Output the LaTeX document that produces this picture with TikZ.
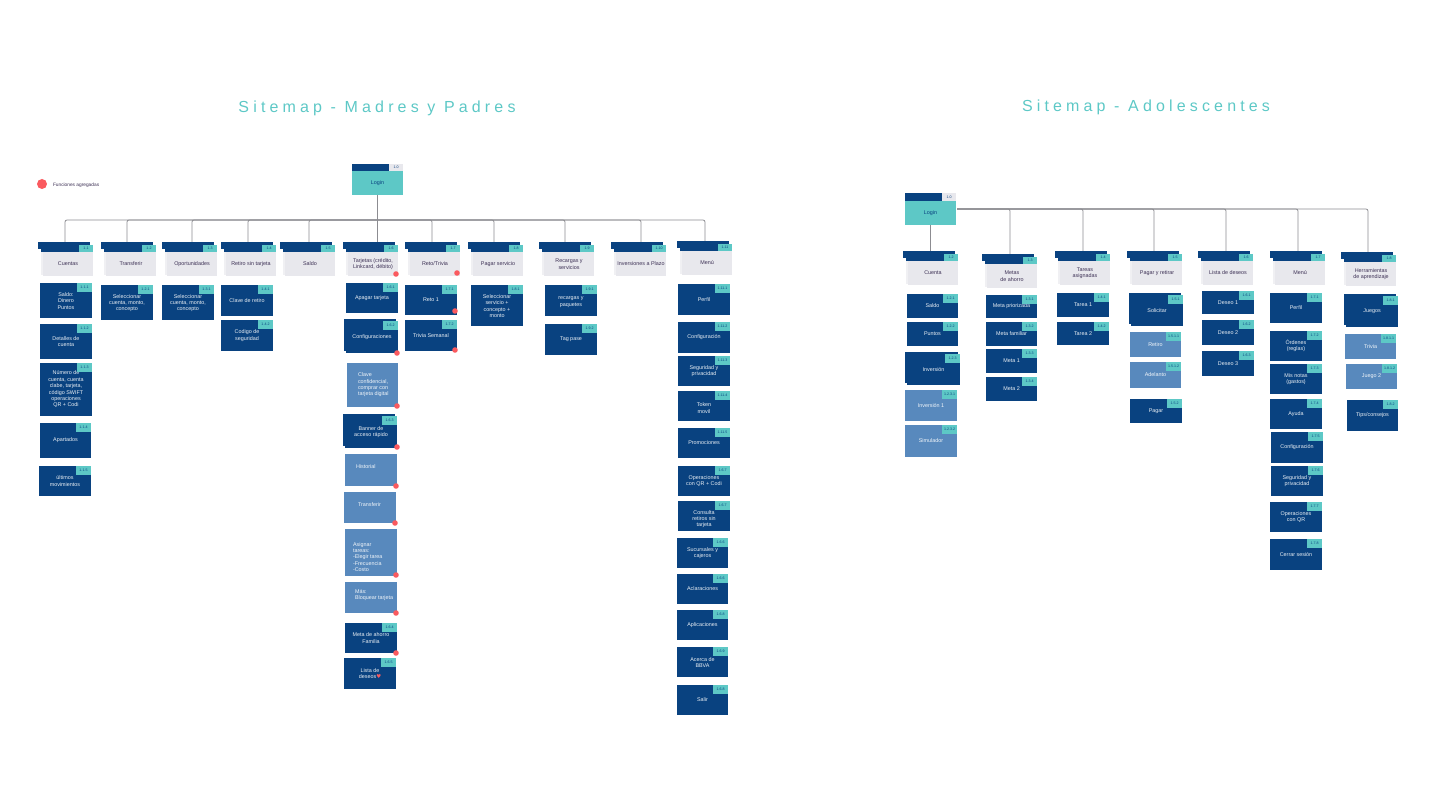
\documentclass[tikz,border=0pt]{standalone}
\usepackage{fontspec}
\setmainfont{Liberation Sans}
\newfontfamily\titlefont[LetterSpace=26]{Liberation Sans}
\newfontfamily\symfont{DejaVu Sans}
\usepackage{xcolor}
\definecolor{mynavy}{RGB}{9,66,128}
\definecolor{mylight}{RGB}{88,137,189}
\definecolor{myteal}{RGB}{93,200,198}
\definecolor{mygrey}{RGB}{232,232,237}
\definecolor{myback}{RGB}{240,240,243}
\definecolor{myink}{RGB}{60,48,84}
\definecolor{myred}{RGB}{250,90,95}
\definecolor{myline}{RGB}{140,140,145}
\newcommand{\dn}[1]{\mbox{}\\[#1pt]}
\tikzset{
boxbase/.style={inner sep=0pt, outer sep=0pt, align=center, font=\fontsize{5.4}{6.4}\selectfont},
leafbox/.style={boxbase, fill=mynavy, text=white!92!mynavy},
lightbox/.style={boxbase, fill=mylight, text=white!92!mylight},
tagbox/.style={boxbase, fill=myteal, text=mynavy, anchor=north east, minimum width=15pt, minimum height=9pt, font=\fontsize{3.6}{4}\selectfont},
pagebox/.style={boxbase, fill=mygrey, text=myink, anchor=north west, minimum width=50pt, minimum height=24pt},
headbox/.style={boxbase, fill=mynavy, anchor=north west},
titlebox/.style={inner sep=0pt, text=myteal, font=\titlefont\fontsize{16}{18}\selectfont},
conn/.style={draw=myline, line width=0.8pt, rounded corners=2pt}
}
\begin{document}
\begin{tikzpicture}[x=1pt,y=-1pt]
\useasboundingbox (0,0) rectangle (1440,810);

\node[titlebox] (tmadres) at (377,108) {Sitemap - Madres y Padres};
\node[titlebox] (tadol) at (1146,107) {Sitemap - Adolescentes};
\fill[myred] (42,184) circle (5);
\node[boxbase, anchor=west, text=myink, font=\fontsize{4.8}{6}\selectfont] (legend) at (53,185) {Funciones agregadas};

% login
\foreach \nm/\xa/\ya/\hh in {login/352/164/7, rlogin/905/193/8}{
\node[headbox, minimum width=37pt, minimum height=\hh pt] (\nm hd) at (\xa,\ya) {};
\node[tagbox, fill=mygrey, minimum width=14pt, minimum height=\hh pt] (\nm tag) at ({\xa+51},\ya) {1.0};
\node[pagebox, fill=myteal, text=mynavy, minimum width=51pt] (\nm) at (\xa,{\ya+\hh}) {Login};
}

% parents
\foreach \nm/\xa/\ya/\tg/\tx in {
cu/38/242/1.1/Cuentas, tr/101/242/1.2/Transferir, op/162/242/1.3/Oportunidades,
re/221/242/1.4/Retiro sin tarjeta, sa/280/242/1.5/Saldo,
ta/343/242/1.6/{Tarjetas (crédito,\\Linkcard, débito)}, rt/405/242/1.7/{Reto/Trivia},
ps/468/242/1.8/Pagar servicio, rc/539/242/1.9/{Recargas y\\servicios},
iv/611/242/1.10/Inversiones a Plazo, me/677/241/1.11/Menú,
rcu/903/251/1.2/Cuenta, rmt/982/254/1.3/{Metas\\de ahorro}, rta/1055/251/1.4/{Tareas\\asignadas},
rpg/1127/251/1.5/Pagar y retirar, rld/1198/251/1.6/Lista de deseos, rme/1270/251/1.7/Menú,
rhe/1341/252/1.8/{Herramientas\\de aprendizaje}}{
\fill[myback] ({\xa+3},{\ya+10}) rectangle ({\xa+52},{\ya+33});
\fill[mynavy] ({\xa+3},{\ya+6}) rectangle ({\xa+52},{\ya+10});
\node[pagebox] (\nm) at ({\xa+5},{\ya+10}) {\tx};
\node[headbox, minimum width=52pt, minimum height=7pt] (\nm hd) at (\xa,\ya) {};
\node[tagbox, minimum width=14pt, minimum height=7pt] (\nm tag) at ({\xa+55},{\ya+3}) {\tg};
}

% connectors
\coordinate (lbus) at (377.5,220);
\coordinate (rbus) at (957,209);
\foreach \pn/\dx in {cu/1, tr/0, op/4, re/1, sa/3, rt/1, ps/0, rc/0, iv/4, me/2}{
\draw[conn] ([xshift=\dx pt]\pn hd.north) |- (lbus);
}
\foreach \pn/\dx in {rmt/2, rta/2, rpg/1, rld/2, rme/2, rhe/1}{
\draw[conn] ([xshift=\dx pt]\pn hd.north) |- (rbus);
}
\draw[conn] (login.south) -- (login.south |- tahd.north);
\draw[conn] (rlogin.south) -- (rlogin.south |- rcuhd.north);

% navy leaves
\foreach \nm/\xa/\ya/\xb/\yb/\tg/\tx in {
c1/40/283/92/318/1.1.1/{\dn{-1.4}Saldo:\\Dinero\\Puntos},
c2/40/324/92/359/1.1.2/{Detalles de\\cuenta},
c3/40/363/92/416/1.1.3/{Número de\\cuenta, cuenta\\clabe, tarjeta,\\código SWIFT\\operaciones\\QR + Codi},
c4/40/423/91/458/1.1.4/Apartados,
c5/39/466/91/496/1.1.5/{últimos\\movimientos},
t1/101/285/153/320/1.2.1/{\dn{-1.4}Seleccionar\\cuenta, monto,\\concepto},
o1/162/285/214/320/1.3.1/{\dn{-1.4}Seleccionar\\cuenta, monto,\\concepto},
r1/221/285/273/316/1.4.1/Clave de  retiro,
r2/221/320/273/351/1.4.2/{Codigo de\\seguridad},
a1/346/283/398/313/1.6.1/Apagar tarjeta,
a4/345/623/397/653/1.6.4/{Meta de ahorro\\Familia},
a5/344/658/396/689/1.6.5/{Lista de\\deseos{\symfont\textcolor{myred}{♥}}},
v1/405/285/457/315/1.7.1/Reto 1,
v2/405/320/457/351/1.7.2/Trivia Semanal,
p1/471/285/523/326/1.8.1/{\dn{-1.4}Seleccionar\\servicio +\\concepto +\\monto},
g1/545/285/597/316/1.9.1/{\dn{-0.4}recargas y\\paquetes},
g2/545/324/597/355/1.9.2/Tag pase,
m1/678/284/730/315/1.11.1/Perfil,
m2/678/322/730/353/1.11.2/Configuración,
m3/678/356/730/386/1.11.3/{Seguridad y\\privacidad},
m4/678/391/730/421/1.11.4/{\dn{1.6}Token\\movil},
m5/678/428/730/458/1.11.5/Promociones,
m6/678/466/730/496/1.6.7/{\dn{-2.4}Operaciones\\con QR +  Codi},
m7/678/501/730/531/1.6.7/{\dn{3.6}Consulta\\retiros sin\\tarjeta},
m8/677/538/728/568/1.6.6/{\dn{-2.4}Sucursales y\\cajeros},
m9/677/574/728/604/1.6.6/Aclaraciones,
m10/677/610/728/640/1.6.8/Aplicaciones,
m11/677/647/728/677/1.6.9/{\dn{-1.4}Acerca de\\BBVA},
m12/677/685/728/715/1.6.8/Salir,
rc1/907/294/958/318/1.2.1/Saldo,
rc2/907/322/958/346/1.2.2/Puntos,
rm1/986/295/1037/318/1.3.1/Meta priorizada,
rm2/986/322/1037/346/1.3.2/Meta familiar,
rm3/986/349/1037/373/1.3.3/Meta 1,
rm4/986/377/1037/401/1.3.4/Meta 2,
rt1/1057/293/1109/317/1.4.1/Tarea 1,
rt2/1057/322/1109/345/1.4.2/Tarea 2,
rp2/1130/399/1182/423/1.5.2/Pagar,
rl1/1202/291/1254/314/1.6.1/Deseo 1,
rl2/1202/320/1254/345/1.6.2/Deseo 2,
rl3/1202/351/1254/376/1.6.3/Deseo 3,
rn1/1270/293/1322/323/1.7.1/Perfil,
rn2/1270/331/1322/361/1.7.2/{Órdenes\\(reglas)},
rn3/1270/364/1322/394/1.7.3/{Mis notas\\(gastos)},
rn4/1270/399/1322/429/1.7.4/Ayuda,
rn5/1271/432/1323/463/1.7.5/Configuración,
rn6/1271/466/1323/496/1.7.6/{Seguridad y\\privacidad},
rn7/1270/502/1322/532/1.7.7/{Operaciones\\con QR},
rn8/1270/539/1322/570/1.7.8/Cerrar sesión,
rh2/1347/400/1398/431/1.8.2/{Tips/consejos}}{
\node[leafbox, minimum width={(\xb-\xa)*1pt}, minimum height={(\yb-\ya)*1pt}] (\nm) at ({(\xa+\xb)/2},{(\ya+\yb)/2}) {\tx};
\node[tagbox] (\nm tag) at (\nm.north east) {\tg};
}

% stacked leaves
\foreach \nm/\xa/\ya/\xb/\yb/\tg/\tx in {
a2/346/321/398/353/1.6.2/Configuraciones,
a3/345/416/397/448/1.6.3/{Banner de\\acceso rápido},
rc3/907/354/960/385/1.2.3/Inversión,
rp1/1131/295/1183/326/1.5.1/Solicitar,
rh1/1346/296/1398/327/1.8.1/Juegos}{
\fill[mynavy] ({\xa-2},{\ya-2}) rectangle ({\xb-2},{\yb-2});
\node[leafbox, minimum width={(\xb-\xa)*1pt}, minimum height={(\yb-\ya)*1pt}] (\nm) at ({(\xa+\xb)/2},{(\ya+\yb)/2}) {\tx};
\node[tagbox] (\nm tag) at (\nm.north east) {\tg};
}

% light leaves with tag
\foreach \nm/\xa/\ya/\xb/\yb/\tg/\tx in {
rc4/905/390/957/421/1.2.3.1/Inversión 1,
rc5/905/425/957/457/1.2.3.2/Simulador,
rp3/1130/332/1181/357/1.5.1.1/Retiro,
rp4/1130/362/1181/388/1.5.1.2/Adelanto,
rh3/1345/334/1396/359/1.8.1.1/Trivia,
rh4/1346/364/1397/389/1.8.1.2/Juego 2}{
\node[lightbox, minimum width={(\xb-\xa)*1pt}, minimum height={(\yb-\ya)*1pt}] (\nm) at ({(\xa+\xb)/2},{(\ya+\yb)/2}) {\tx};
\node[tagbox] (\nm tag) at (\nm.north east) {\tg};
}

% light leaves without tag
\foreach \nm/\xa/\ya/\xb/\yb/\lx/\ly/\tx in {
l1/347/363/398/407/358/385/{Clave\\confidencial,\\comprar con\\tarjeta digital},
l2/345/454/397/486/356/467/Historial,
l3/344/492/396/523/358/505/Transferir,
l4/345/529/397/576/353/557/{Asignar\\tareas:\\-Elegir tarea\\-Frecuencia\\-Costo},
l5/345/582/397/613/355/595/{Más:\\Bloquear tarjeta}}{
\node[lightbox, minimum width={(\xb-\xa)*1pt}, minimum height={(\yb-\ya)*1pt}] (\nm) at ({(\xa+\xb)/2},{(\ya+\yb)/2}) {};
\node[boxbase, text=white!92!mylight, anchor=west, align=left] (\nm text) at (\lx,\ly) {\tx};
}

% added functions
\foreach \xa/\ya in {396/274, 457/273, 397/353, 455/311, 455/350, 397/406, 397/447, 396/486, 395/523, 396/575, 396/613, 396/653}{
\fill[myred] (\xa,\ya) circle (2.8);
}
\end{tikzpicture}
\end{document}
